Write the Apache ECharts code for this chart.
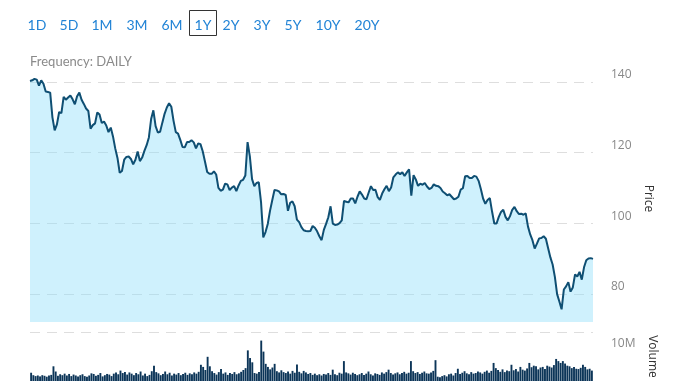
<!DOCTYPE html>
<html>
<head>
<meta charset="utf-8">
<script src="https://cdn.jsdelivr.net/npm/echarts@6/dist/echarts.min.js"></script>
<style>
html,body{margin:0;padding:0;background:#fff;}
#chart{width:678px;height:381px;}
</style>
</head>
<body>
<div id="chart"></div>
<script>
// Range buttons
const rangeLabels = ['1D','5D','1M','3M','6M','1Y','2Y','3Y','5Y','10Y','20Y'];
const rangeCenters = [37,69,102,137,172,203,231,262,293,328,367];
const selectedRange = '1Y';
const frequencyText = 'Frequency: DAILY';

// Price tick labels
const priceTicks = [80, 100, 120, 140];
const volumeTicks = [10];

// Daily closing prices (1 year)
const prices = [
140.3,140.5,140.9,140.7,139.0,140.5,139.5,137.3,137.2,137.0,
130.0,126.3,128.0,131.5,131.2,135.8,135.0,135.6,136.2,135.1,
133.7,136.0,137.0,135.0,133.8,132.5,131.8,126.8,127.8,128.3,
131.4,130.8,128.4,128.8,127.7,125.8,127.1,124.6,121.2,118.5,
114.3,114.8,118.0,118.8,118.9,118.2,116.7,118.0,120.3,117.6,
118.6,120.5,122.1,124.3,129.5,132.0,127.5,125.7,125.9,128.5,
131.0,132.8,134.0,133.0,129.0,125.8,125.4,123.6,121.6,121.5,
123.0,123.0,123.5,122.9,121.2,122.6,122.4,120.4,117.5,114.5,
114.0,114.0,114.7,113.8,110.0,109.2,109.5,111.2,111.0,109.4,
110.1,110.5,109.1,110.7,112.0,112.3,113.5,123.0,119.0,112.5,
110.5,111.4,111.6,106.0,96.0,97.5,99.8,103.5,106.5,109.4,
109.3,109.0,108.2,108.3,108.0,103.5,105.8,106.2,104.8,101.0,
100.3,98.9,98.0,97.8,97.7,97.8,99.2,98.7,97.7,96.3,
95.2,98.1,99.8,101.7,104.8,99.9,99.5,99.6,100.0,100.8,
106.3,106.1,105.9,107.0,107.0,105.6,107.5,109.0,108.1,107.0,
106.8,108.7,110.5,109.4,109.5,107.4,106.6,108.4,109.6,110.6,
109.1,110.1,113.0,113.8,114.4,113.9,114.4,113.4,114.4,115.3,
107.8,113.6,112.4,110.6,111.2,110.9,111.4,110.4,109.7,110.0,
111.0,110.6,110.5,110.0,109.0,108.5,107.9,108.2,107.5,106.8,
107.0,107.5,109.5,109.9,113.3,113.4,112.8,112.8,113.4,113.2,
112.0,109.7,107.0,105.5,106.6,107.1,103.3,99.9,99.9,101.8,
103.2,103.8,101.8,100.8,102.0,103.8,104.6,103.4,102.6,102.7,
102.4,102.8,99.1,96.8,95.2,92.8,94.2,95.7,95.8,96.3,
95.6,92.9,90.3,88.3,84.8,79.9,77.8,75.6,81.2,82.1,
83.3,80.6,81.8,85.5,84.9,86.2,84.0,87.5,89.5,90.0,
90.1,89.9
];

// Daily volume, in millions
const volumes = [
2.7,1.9,1.6,1.8,1.5,1.9,1.7,1.4,1.8,2.0,
4.8,3.1,1.7,2.2,1.9,2.4,1.8,2.3,1.6,2.1,
1.8,1.5,1.9,2.2,1.6,1.4,1.8,2.5,2.3,1.7,
2.0,2.6,1.5,1.9,2.3,2.1,1.6,2.4,2.8,2.2,
3.4,2.6,2.9,2.1,2.8,2.4,1.9,2.6,2.2,3.1,
1.8,2.4,1.6,2.0,3.2,5.0,2.9,2.5,1.9,2.3,
3.1,2.2,2.7,1.8,2.4,2.1,2.6,1.9,2.3,2.7,
2.0,2.5,2.2,2.8,2.4,3.0,5.3,4.6,3.6,7.9,
4.8,3.2,2.6,2.1,2.9,3.9,2.4,2.8,2.0,2.6,
2.3,2.9,2.2,2.5,3.0,3.6,4.2,10.0,7.5,6.1,
2.6,2.4,2.9,13.2,9.6,5.6,4.6,3.8,4.4,5.6,
3.2,2.8,3.5,2.9,2.6,3.1,2.4,3.3,2.7,5.4,
3.0,2.5,3.3,2.8,2.3,2.6,2.0,2.4,1.9,2.2,
1.8,2.3,2.1,2.6,2.0,3.7,2.2,1.9,2.7,2.4,
6.5,2.8,2.5,2.1,2.7,2.3,1.9,2.2,2.6,2.0,
2.4,3.1,2.2,1.8,2.5,2.3,2.0,2.8,2.4,2.9,
3.7,2.6,2.1,2.5,2.8,2.2,2.6,3.0,2.4,2.7,
6.5,3.2,2.6,2.9,2.3,2.7,3.1,2.5,2.4,2.8,
3.3,6.8,1.4,1.2,1.6,1.9,1.5,2.2,2.4,1.8,
2.6,4.0,2.3,2.7,3.2,2.5,2.2,2.9,2.4,2.6,
3.1,2.8,2.4,3.0,3.4,2.7,3.3,5.9,4.2,3.6,
3.0,3.8,2.9,3.4,3.2,5.3,3.5,3.9,3.1,4.6,
3.7,3.4,4.1,5.9,4.5,5.0,4.8,3.8,4.4,4.6,
3.9,5.0,4.7,4.4,5.2,7.2,6.5,5.9,6.5,5.7,
5.0,4.8,4.2,4.6,4.0,3.9,4.3,5.3,4.6,3.8,
4.0,3.4
];

const days = prices.map((_, i) => 'D' + (i + 1));

const chart = echarts.init(document.getElementById('chart'), null, {renderer: 'canvas'});

const graphics = rangeLabels.map((t, i) => ({
  type: 'text',
  x: rangeCenters[i],
  y: 25.5,
  style: {
    text: t,
    fill: '#2284d6',
    font: '14px Lato',
    align: 'center',
    verticalAlign: 'middle'
  }
}));
const selIdx = rangeLabels.indexOf(selectedRange);
graphics.push({
  type: 'rect',
  shape: {x: rangeCenters[selIdx] - 13.5, y: 10.5, width: 27, height: 25},
  style: {fill: 'none', stroke: '#333', lineWidth: 1}
});
graphics.push({
  type: 'text',
  x: 30,
  y: 61.5,
  style: {
    text: frequencyText,
    fill: '#8a8a8a',
    font: '13px Lato',
    align: 'left',
    verticalAlign: 'middle'
  }
});

const gridLineColor = '#dedede';

chart.setOption({
  animation: false,
  backgroundColor: '#fff',
  graphic: graphics,
  grid: [
    {left: 30, right: 85, top: 75, height: 247},
    {left: 30, right: 85, top: 332, height: 49}
  ],
  xAxis: [
    {type: 'category', gridIndex: 0, data: days, boundaryGap: false, show: false},
    {type: 'category', gridIndex: 1, data: days, boundaryGap: true, show: false}
  ],
  yAxis: [
    {
      type: 'value', gridIndex: 0, position: 'right',
      min: 72, max: 142, splitNumber: 4,
      axisLine: {show: false}, axisTick: {show: false},
      axisLabel: {
        show: true, showMinLabel: false, showMaxLabel: false,
        color: '#888', fontFamily: 'Open Sans', fontSize: 12,
        margin: 18, verticalAlign: 'bottom', padding: [0,0,1,0]
      },
      splitLine: {
        show: true, showMinLine: false, showMaxLine: false,
        lineStyle: {color: gridLineColor, type: [10, 7], width: 1}
      },
      name: 'Price', nameLocation: 'middle', nameRotate: -90, nameGap: 40,
      nameTextStyle: {color: '#333', fontFamily: 'Open Sans', fontSize: 12}
    },
    {
      type: 'value', gridIndex: 1, position: 'right',
      min: 0, max: 16, splitNumber: 2,
      axisLine: {show: false}, axisTick: {show: false},
      axisLabel: {
        show: true, showMinLabel: false, showMaxLabel: false,
        color: '#888', fontFamily: 'Open Sans', fontSize: 12,
        margin: 18, verticalAlign: 'bottom', padding: [0,0,1,0],
        formatter: v => volumeTicks.indexOf(v) >= 0 ? v + 'M' : ''
      },
      splitLine: {
        show: true, showMinLine: false,
        lineStyle: {color: ['transparent', gridLineColor], type: [10, 7], width: 1}
      },
      name: 'Volume', nameLocation: 'middle', nameRotate: -90, nameGap: 40,
      nameTextStyle: {color: '#333', fontFamily: 'Open Sans', fontSize: 12}
    }
  ],
  series: [
    {
      type: 'line', xAxisIndex: 0, yAxisIndex: 0,
      data: prices, symbol: 'none', smooth: false,
      lineStyle: {color: '#0f4f73', width: 2},
      areaStyle: {color: 'rgba(140,222,250,0.42)', opacity: 1, origin: 'start'}
    },
    {
      type: 'bar', xAxisIndex: 1, yAxisIndex: 1,
      data: volumes, barCategoryGap: '15%',
      itemStyle: {color: '#0c3558'}
    }
  ]
});
</script>
</body>
</html>
